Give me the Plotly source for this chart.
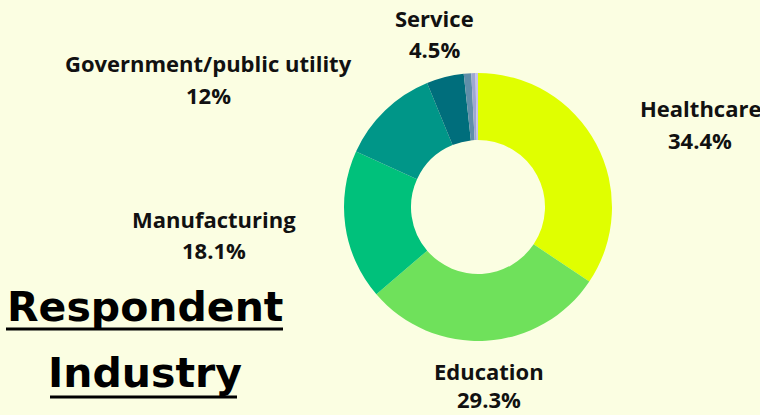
import plotly.graph_objects as go

# ---- data ----
industries = ["Healthcare", "Education", "Manufacturing", "Government/public utility",
              "Service", "Other A", "Other B", "Other C"]
shares = [34.4, 29.3, 18.1, 12.0, 4.5, 0.9, 0.5, 0.3]
pct_labels = ["34.4%", "29.3%", "18.1%", "12%", "4.5%", "", "", ""]
colors = ["#e0ff00", "#6fe15b", "#00c17b", "#009688", "#006e7c", "#5f8ea9", "#9ea8d2", "#c8c2ee"]

# label layout positions (pixels in 760x415 frame): (x center, y of name line, y of pct line)
label_pos = {
    "Healthcare": (700, 108, 140),
    "Education": (489, 371, 399),
    "Manufacturing": (214, 219, 250),
    "Government/public utility": (208, 63, 95),
    "Service": (435, 18, 49),
}

W, H = 760, 415
BG = "#fbfee2"
cx, cy, R = 478, 207, 134

fig = go.Figure()
fig.add_trace(go.Pie(
    labels=industries, values=shares, hole=0.5, sort=False, direction="clockwise",
    rotation=0, marker=dict(colors=colors, line=dict(width=0)),
    textinfo="none", hoverinfo="skip", showlegend=False,
    domain=dict(x=[(cx - R) / W, (cx + R) / W], y=[(H - cy - R) / H, (H - cy + R) / H]),
))

lab_font = dict(family="Open Sans", size=22, color="#111111", weight="bold")
annotations = []
for name, pct in zip(industries, pct_labels):
    if name not in label_pos:
        continue
    x, y1, y2 = label_pos[name]
    for txt, yy in ((name, y1), (pct, y2)):
        annotations.append(dict(text=txt, x=x / W, y=1 - yy / H, xref="paper", yref="paper",
                                xanchor="center", yanchor="middle", showarrow=False, font=lab_font))

title_font = dict(family="DejaVu Sans", size=41, color="#000000", weight="bold")
annotations.append(dict(text="Respondent", x=145 / W, y=1 - 307 / H, xref="paper", yref="paper",
                        xanchor="center", yanchor="middle", showarrow=False, font=title_font))
annotations.append(dict(text="Industry", x=145 / W, y=1 - 373 / H, xref="paper", yref="paper",
                        xanchor="center", yanchor="middle", showarrow=False, font=title_font))

shapes = [
    dict(type="line", xref="paper", yref="paper", x0=6 / W, x1=283 / W, y0=1 - 329 / H, y1=1 - 329 / H,
         line=dict(color="#000000", width=3)),
    dict(type="line", xref="paper", yref="paper", x0=50 / W, x1=237 / W, y0=1 - 397 / H, y1=1 - 397 / H,
         line=dict(color="#000000", width=3)),
]

fig.update_layout(
    width=W, height=H, margin=dict(l=0, r=0, t=0, b=0),
    paper_bgcolor=BG, plot_bgcolor=BG,
    annotations=annotations, shapes=shapes,
)
fig.write_html("out.html", config={"displayModeBar": False},
               post_script="document.body.style.margin='0';document.body.style.overflow='hidden';")
